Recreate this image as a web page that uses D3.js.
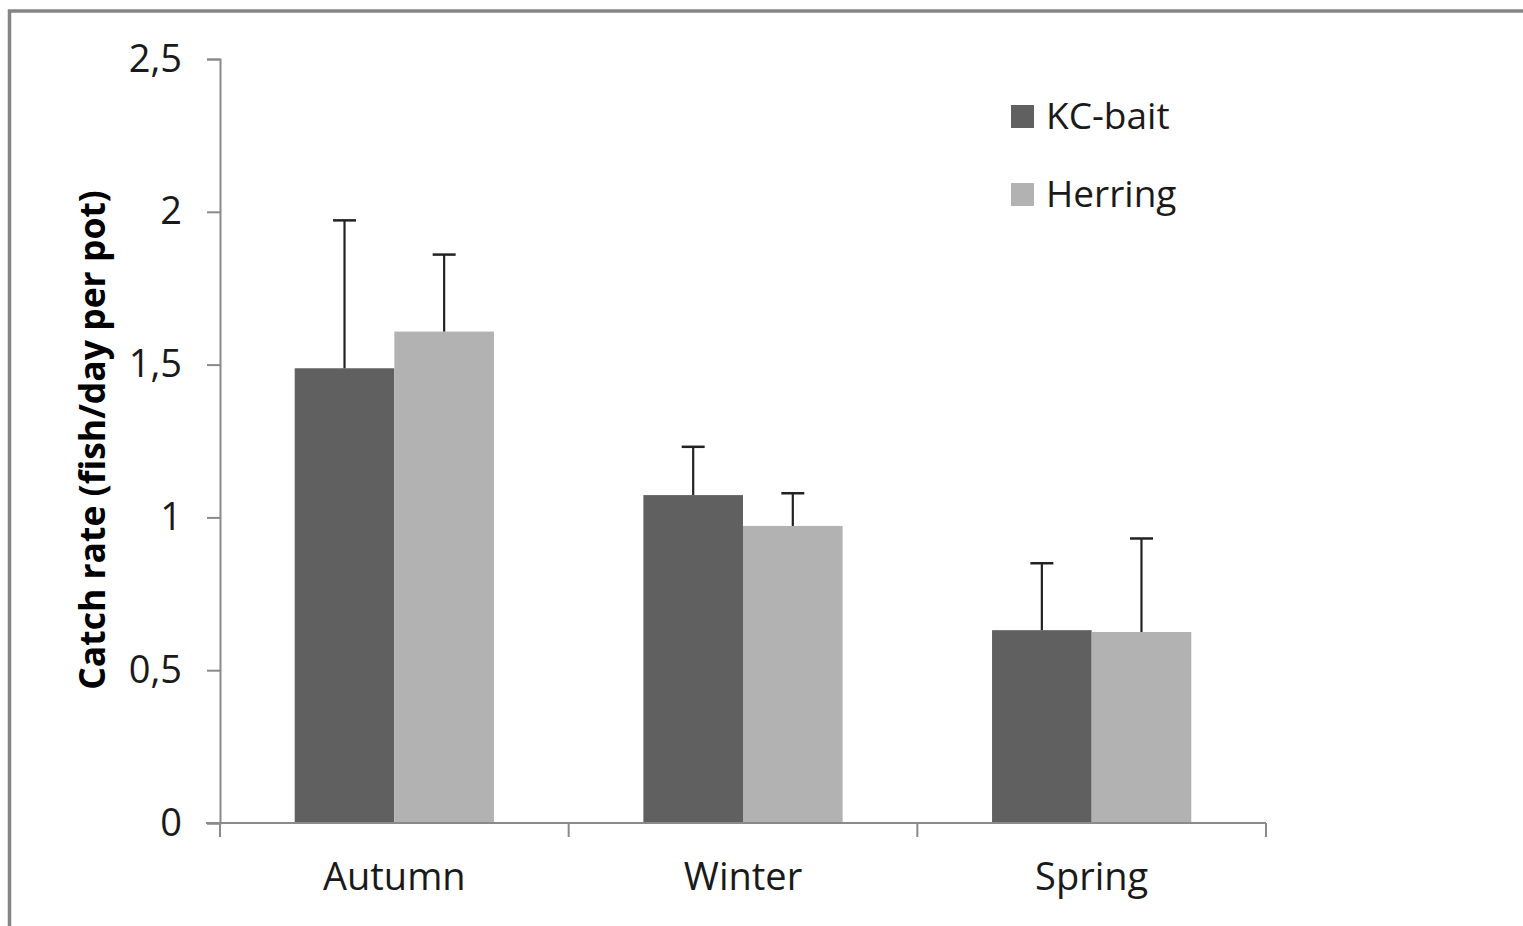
<!DOCTYPE html>
<html>
<head>
<meta charset="utf-8">
<script src="https://cdn.jsdelivr.net/npm/d3@7"></script>
<style>
  body { margin: 0; background: #fff; }
  svg { display: block; font-family: "Open Sans", sans-serif; }
</style>
</head>
<body>
<svg id="chart"></svg>
<script>
// data
const seasons = ["Autumn", "Winter", "Spring"];
const seriesNames = ["KC-bait", "Herring"];
const kcBait = [1.488, 1.073, 0.631];
const kcBaitErr = [0.484, 0.158, 0.219];
const herring = [1.608, 0.972, 0.625];
const herringErr = [0.252, 0.107, 0.306];
const yTicks = [0, 0.5, 1, 1.5, 2, 2.5];
const colors = ["#606060", "#b2b2b2"];

const width = 1523, height = 926;
const svg = d3.select("#chart").attr("width", width).attr("height", height);

// outer frame (only top & left visible in the crop)
svg.append("rect")
  .attr("x", 9.5).attr("y", 11)
  .attr("width", width + 20).attr("height", height + 20)
  .attr("fill", "none").attr("stroke", "#858585").attr("stroke-width", 3.5);

const plotLeft = 220, plotRight = 1266, plotTop = 59, plotBottom = 823;

const x = d3.scaleBand().domain(seasons).range([plotLeft, plotRight]).padding(0);
const xInner = d3.scaleBand().domain(seriesNames).range([0, x.bandwidth()])
  .paddingInner(0).paddingOuter(0.75);
const y = d3.scaleLinear().domain([0, 2.5]).range([plotBottom, plotTop]);

const locale = d3.formatLocale({ decimal: ",", thousands: ".", grouping: [3], currency: ["", ""] });
const fmt = d => d === Math.round(d) ? String(d) : locale.format(".1f")(d);

// bars
const rows = seasons.map((s, i) => ({
  season: s,
  vals: [
    { name: seriesNames[0], v: kcBait[i], e: kcBaitErr[i] },
    { name: seriesNames[1], v: herring[i], e: herringErr[i] }
  ]
}));

const groups = svg.append("g").selectAll("g")
  .data(rows)
  .join("g")
  .attr("transform", d => `translate(${x(d.season)},0)`);

groups.selectAll("rect")
  .data(d => d.vals)
  .join("rect")
  .attr("x", d => xInner(d.name))
  .attr("y", d => y(d.v))
  .attr("width", xInner.bandwidth())
  .attr("height", d => y(0) - y(d.v))
  .attr("fill", (d, i) => colors[i]);

// error bars (upper only)
const capW = 23;
groups.selectAll("g.err")
  .data(d => d.vals)
  .join("g")
  .attr("class", "err")
  .each(function (d) {
    const cx = xInner(d.name) + xInner.bandwidth() / 2;
    const g = d3.select(this);
    g.append("line")
      .attr("x1", cx).attr("x2", cx)
      .attr("y1", y(d.v)).attr("y2", y(d.v + d.e))
      .attr("stroke", "#222").attr("stroke-width", 2.2);
    g.append("line")
      .attr("x1", cx - capW / 2).attr("x2", cx + capW / 2)
      .attr("y1", y(d.v + d.e)).attr("y2", y(d.v + d.e))
      .attr("stroke", "#222").attr("stroke-width", 2.5);
  });

// y axis
const yAxis = svg.append("g")
  .attr("transform", `translate(${plotLeft},0)`)
  .call(d3.axisLeft(y).tickValues(yTicks).tickFormat(fmt).tickSize(13).tickPadding(25));
yAxis.selectAll("line, path").attr("stroke", "#8a8a8a").attr("stroke-width", 2);
yAxis.selectAll("text")
  .attr("font-size", 38).attr("fill", "#1a1a1a")
  .attr("font-family", "'Open Sans', sans-serif");

// x axis
const xAxisG = svg.append("g").attr("transform", `translate(0,${plotBottom})`);
xAxisG.append("line")
  .attr("x1", plotLeft - 14).attr("x2", plotRight)
  .attr("stroke", "#8a8a8a").attr("stroke-width", 2);
const bounds = seasons.map(s => x(s)).concat([plotRight]);
xAxisG.selectAll("line.tick")
  .data(bounds)
  .join("line")
  .attr("class", "tick")
  .attr("x1", d => d).attr("x2", d => d)
  .attr("y1", 0).attr("y2", 14)
  .attr("stroke", "#8a8a8a").attr("stroke-width", 2);
xAxisG.selectAll("text")
  .data(seasons)
  .join("text")
  .attr("x", d => x(d) + x.bandwidth() / 2)
  .attr("y", 67)
  .attr("text-anchor", "middle")
  .attr("font-size", 38)
  .attr("fill", "#1a1a1a")
  .text(d => d);

// y axis title
svg.append("text")
  .attr("transform", `translate(105,${(plotTop + plotBottom) / 2 - 1}) rotate(-90)`)
  .attr("text-anchor", "middle")
  .attr("font-size", 35.5)
  .attr("font-weight", "bold")
  .attr("fill", "#000")
  .text("Catch rate (fish/day per pot)");

// legend
const legend = svg.append("g").selectAll("g")
  .data(seriesNames)
  .join("g")
  .attr("transform", (d, i) => `translate(1011,${105 + i * 78})`);
legend.append("rect")
  .attr("width", 23).attr("height", 23)
  .attr("fill", (d, i) => colors[i]);
legend.append("text")
  .attr("x", 35).attr("y", 24)
  .attr("font-size", 37)
  .attr("fill", "#1a1a1a")
  .text(d => d);
</script>
</body>
</html>
